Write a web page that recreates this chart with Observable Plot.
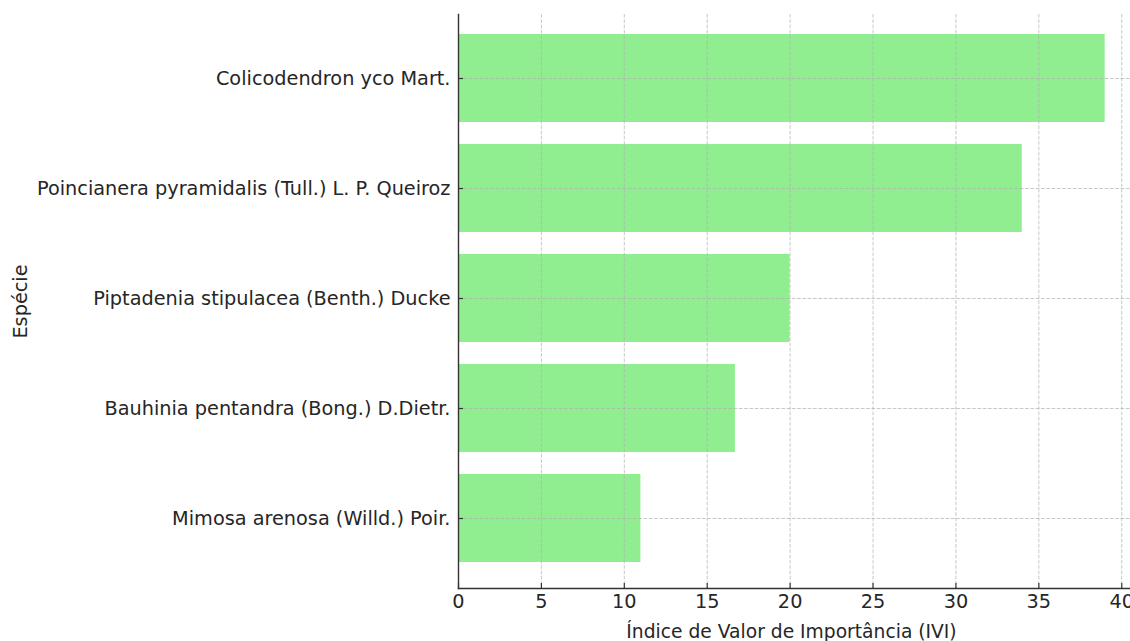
<!DOCTYPE html>
<html>
<head>
<meta charset="utf-8">
<script src="https://cdn.jsdelivr.net/npm/d3@7"></script>
<script src="https://cdn.jsdelivr.net/npm/@observablehq/plot@0.6"></script>
<style>
  html, body { margin: 0; padding: 0; background: #fff; }
  #chart svg { display: block; }
</style>
</head>
<body>
<div id="chart"></div>
<script>
const species = [
  "Colicodendron yco Mart.",
  "Poincianera pyramidalis (Tull.) L. P. Queiroz",
  "Piptadenia stipulacea (Benth.) Ducke",
  "Bauhinia pentandra (Bong.) D.Dietr.",
  "Mimosa arenosa (Willd.) Poir."
];
const ivi = [39.0, 34.0, 20.0, 16.7, 11.0];
const xTicks = [0, 5, 10, 15, 20, 25, 30, 35, 40];
const xLabel = "Índice de Valor de Importância (IVI)";
const yLabel = "Espécie";

const data = species.map((s, i) => ({species: s, ivi: ivi[i]}));

const font = "'DejaVu Sans', 'Liberation Sans', sans-serif";
const textColor = "#262626";
const gridStyle = {stroke: "#b0b0b0", strokeOpacity: 0.7, strokeWidth: 1, strokeDasharray: "3.7,1.6"};

const chart = Plot.plot({
  width: 1130,
  height: 641,
  marginTop: 14,
  marginBottom: 53,
  marginLeft: 458,
  marginRight: 0,
  style: {fontFamily: font, fontSize: "19.3px", color: textColor, background: "#fff"},
  x: {domain: [0, 40.95], range: [458, 1137]},
  y: {domain: species, range: [23, 573], paddingInner: 0.2, paddingOuter: 0.1},
  marks: [
    Plot.barX(data, {x: "ivi", y: "species", fill: "#90ee90"}),
    Plot.gridX(xTicks, gridStyle),
    Plot.gridY(species, gridStyle),
    Plot.tickX(xTicks, {x: d => d, insetTop: 569, stroke: "#333", strokeWidth: 1.2}),
    Plot.tickY(species, {y: d => d, insetRight: 667, stroke: "#333", strokeWidth: 1.2}),
    Plot.frame({anchor: "left", stroke: "#333", strokeWidth: 1.4}),
    Plot.frame({anchor: "bottom", stroke: "#333", strokeWidth: 1.4}),
    Plot.axisX(xTicks, {tickSize: 0, tickPadding: 6, label: null, fill: textColor}),
    Plot.axisY(species, {tickSize: 0, tickPadding: 8, label: null, fill: textColor}),
    Plot.text([xLabel], {frameAnchor: "bottom", dx: -3, dy: 49, fontSize: 18.7, fill: textColor}),
    Plot.text([yLabel], {frameAnchor: "left", dx: -438, rotate: -90, textAnchor: "middle", fill: textColor})
  ]
});
document.getElementById("chart").appendChild(chart);
</script>
</body>
</html>
